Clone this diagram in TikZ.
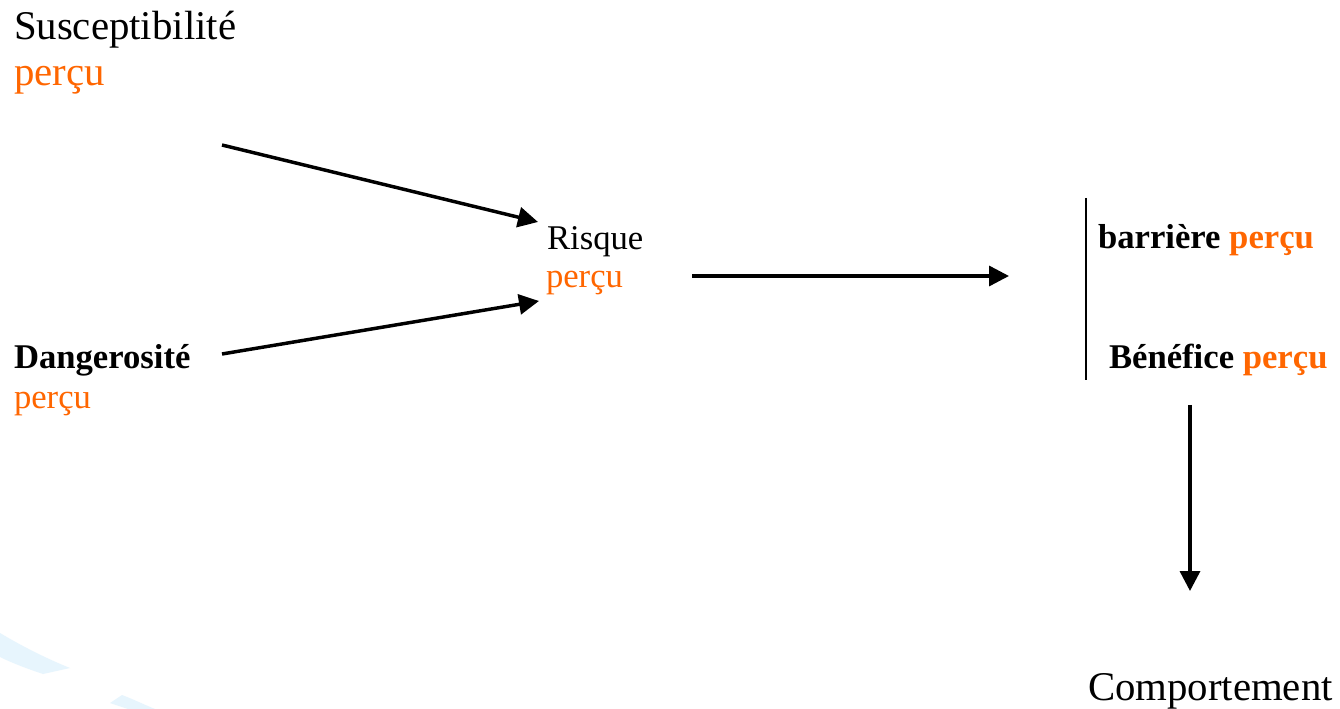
\documentclass[tikz,border=0pt]{standalone}
\usepackage{fontspec}
\setmainfont{Liberation Serif}
\usetikzlibrary{arrows.meta}
\definecolor{perc}{RGB}{255,102,0}
\definecolor{swoosh}{RGB}{231,245,253}
\tikzset{
  lbl/.style={anchor=base west, inner sep=0pt, outer sep=0pt},
  big/.style={lbl, font=\fontsize{30.6}{34}\selectfont},
  mid/.style={lbl, font=\fontsize{26}{30}\selectfont},
  midb/.style={lbl, font=\fontsize{26}{30}\selectfont\bfseries},
  arr/.style={line width=2.6pt, -{Triangle[length=15pt,width=15pt]}, shorten >=0pt},
}
\begin{document}
\begin{tikzpicture}[x=0.75pt,y=-0.75pt]
\useasboundingbox (0,0) rectangle (1340,709);
\fill[white] (0,0) rectangle (1340,709);
% background swoosh
\fill[swoosh] (0,633) .. controls (25,648) and (50,660) .. (70,668) -- (43,674) .. controls (28,669) and (12,663) .. (0,657) -- cycle;
\fill[swoosh] (110,703) -- (122,695) .. controls (135,700) and (145,705) .. (155,709) -- (128,709) -- cycle;
% labels
\node[big] (sus) at (14,40) {Susceptibilité};
\node[big, text=perc] (susp) at (14,86) {perçu};
\node[mid] (ris) at (547,250) {Risque};
\node[mid, text=perc] (risp) at (546,288) {perçu};
\node[midb] (dan) at (14,369) {Dangerosité};
\node[mid, text=perc] (danp) at (14,409) {perçu};
\node[midb] (bar) at (1098,249) {barrière \textcolor{perc}{perçu}};
\node[midb] (ben) at (1109,369) {Bénéfice \textcolor{perc}{perçu}};
\node[big] (comp) at (1088,700) {Comportement};
% arrow endpoints
\coordinate (a1s) at (222,145);
\coordinate (a1e) at (538,222);
\coordinate (a2s) at (222,354);
\coordinate (a2e) at (539,301);
\coordinate (a3s) at (692,276);
\coordinate (a3e) at (1009,276);
\coordinate (a4s) at (1190,405);
\coordinate (a4e) at (1190,591);
\coordinate (vt) at (1086,198);
\coordinate (vb) at (1086,380);
% connectors
\draw[arr] (a1s) -- (a1e);
\draw[arr] (a2s) -- (a2e);
\draw[arr] (a3s) -- (a3e);
\draw[arr] (a4s) -- (a4e);
\draw[line width=1.5pt] (vt) -- (vb);
\end{tikzpicture}
\end{document}
